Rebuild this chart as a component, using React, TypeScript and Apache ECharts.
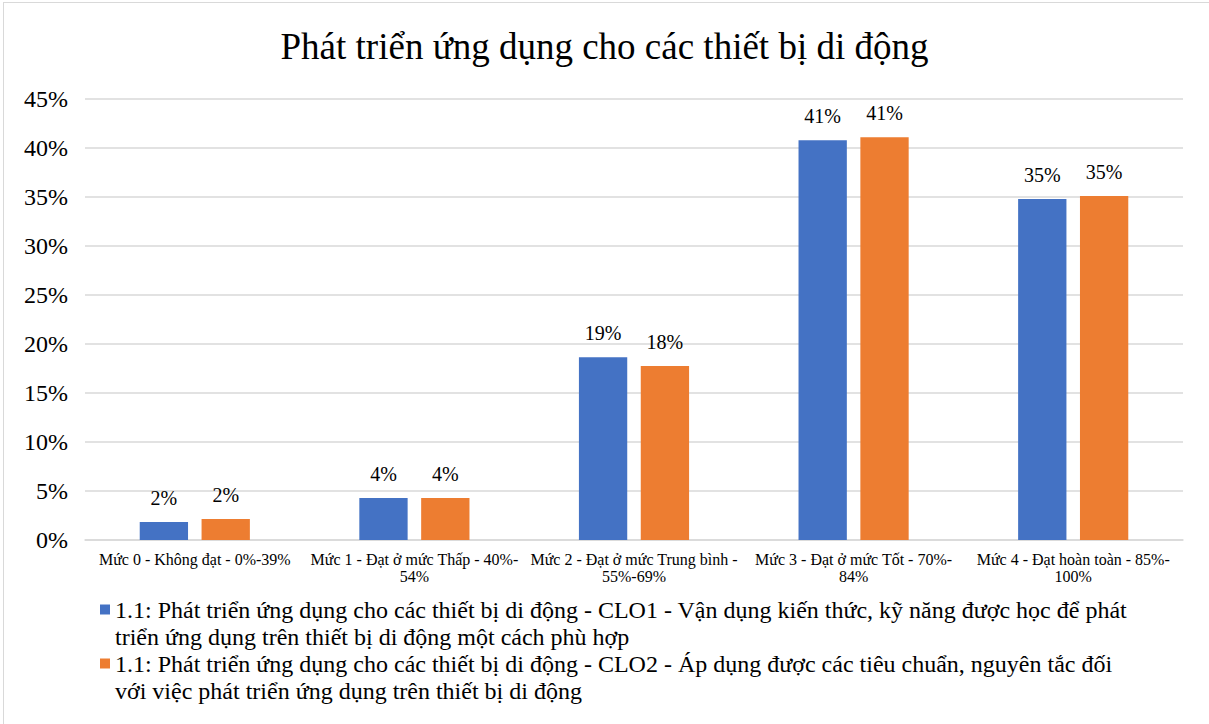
import React, { useEffect, useRef } from "react";
import * as echarts from "echarts";

const TITLE = "Phát triển ứng dụng cho các thiết bị di động";
const categories = [
  "Mức 0 - Không đạt - 0%-39%",
  "Mức 1 - Đạt ở mức Thấp - 40%-\n54%",
  "Mức 2 - Đạt ở mức Trung bình -\n55%-69%",
  "Mức 3 - Đạt ở mức Tốt - 70%-\n84%",
  "Mức 4 - Đạt hoàn toàn - 85%-\n100%",
];
const seriesNames = [
  "1.1: Phát triển ứng dụng cho các thiết bị di động - CLO1 - Vận dụng kiến thức, kỹ năng được học để phát\ntriển ứng dụng trên thiết bị di động một cách phù hợp",
  "1.1: Phát triển ứng dụng cho các thiết bị di động - CLO2 - Áp dụng được các tiêu chuẩn, nguyên tắc đối\nvới việc phát triển ứng dụng trên thiết bị di động",
];
const clo1 = [1.84, 4.29, 18.65, 40.8, 34.8];
const clo2 = [2.14, 4.29, 17.75, 41.1, 35.1];
const colors = ["#4472C4", "#ED7D31"];

const FONT = "Liberation Serif";

export default function App() {
  const ref = useRef<HTMLDivElement>(null);
  useEffect(() => {
    if (!ref.current) return;
    const chart = echarts.init(ref.current, undefined, { renderer: "svg" });
    const mkSeries = (name: string, data: number[], color: string) => ({
      name,
      type: "bar",
      data,
      barWidth: "22%",
      barGap: "28%",
      itemStyle: { color },
      label: {
        show: true,
        position: "top",
        distance: 14,
        formatter: (p: any) => Math.round(p.value) + "%",
        fontFamily: FONT,
        fontSize: 20,
        color: "#000",
      },
    });
    chart.setOption({
      animation: false,
      textStyle: { fontFamily: FONT },
      title: {
        text: TITLE,
        left: "center",
        top: 23,
        textStyle: { fontFamily: FONT, fontSize: 37, fontWeight: "normal", color: "#000" },
      },
      grid: { left: 85, right: 26, top: 99, bottom: 184, containLabel: false },
      xAxis: {
        type: "category",
        data: categories,
        axisLine: { show: true, lineStyle: { color: "#d9d9d9", width: 1.5 } },
        axisTick: { show: false },
        axisLabel: {
          interval: 0,
          fontFamily: FONT,
          fontSize: 16,
          lineHeight: 17,
          color: "#000",
          margin: 11,
        },
      },
      yAxis: {
        type: "value",
        min: 0,
        max: 45,
        interval: 5,
        axisLine: { show: false },
        axisTick: { show: false },
        splitLine: { lineStyle: { color: "#d9d9d9", width: 1.5 } },
        axisLabel: {
          formatter: "{value}%",
          fontFamily: FONT,
          fontSize: 24,
          color: "#000",
          margin: 17,
        },
      },
      legend: {
        orient: "vertical",
        left: 95,
        top: 564,
        itemWidth: 10,
        itemHeight: 10,
        itemGap: -27,
        icon: "rect",
        data: seriesNames,
        formatter: (name: string) => "\n" + name,
        textStyle: {
          fontFamily: FONT,
          fontSize: 24,
          lineHeight: 27,
          color: "#000",
        },
      },
      series: [
        mkSeries(seriesNames[0], clo1, colors[0]),
        mkSeries(seriesNames[1], clo2, colors[1]),
      ],
    });
    return () => chart.dispose();
  }, []);
  return (
    <div style={{ position: "fixed", left: 0, top: 0, width: 1209, height: 724, background: "#fff" }}>
      <div
        style={{
          position: "absolute",
          left: 3,
          top: 2,
          width: 1210,
          height: 730,
          border: "1px solid #d9d9d9",
          boxSizing: "border-box",
        }}
      />
      <div ref={ref} style={{ position: "absolute", left: 0, top: 0, width: 1209, height: 724 }} />
    </div>
  );
}
